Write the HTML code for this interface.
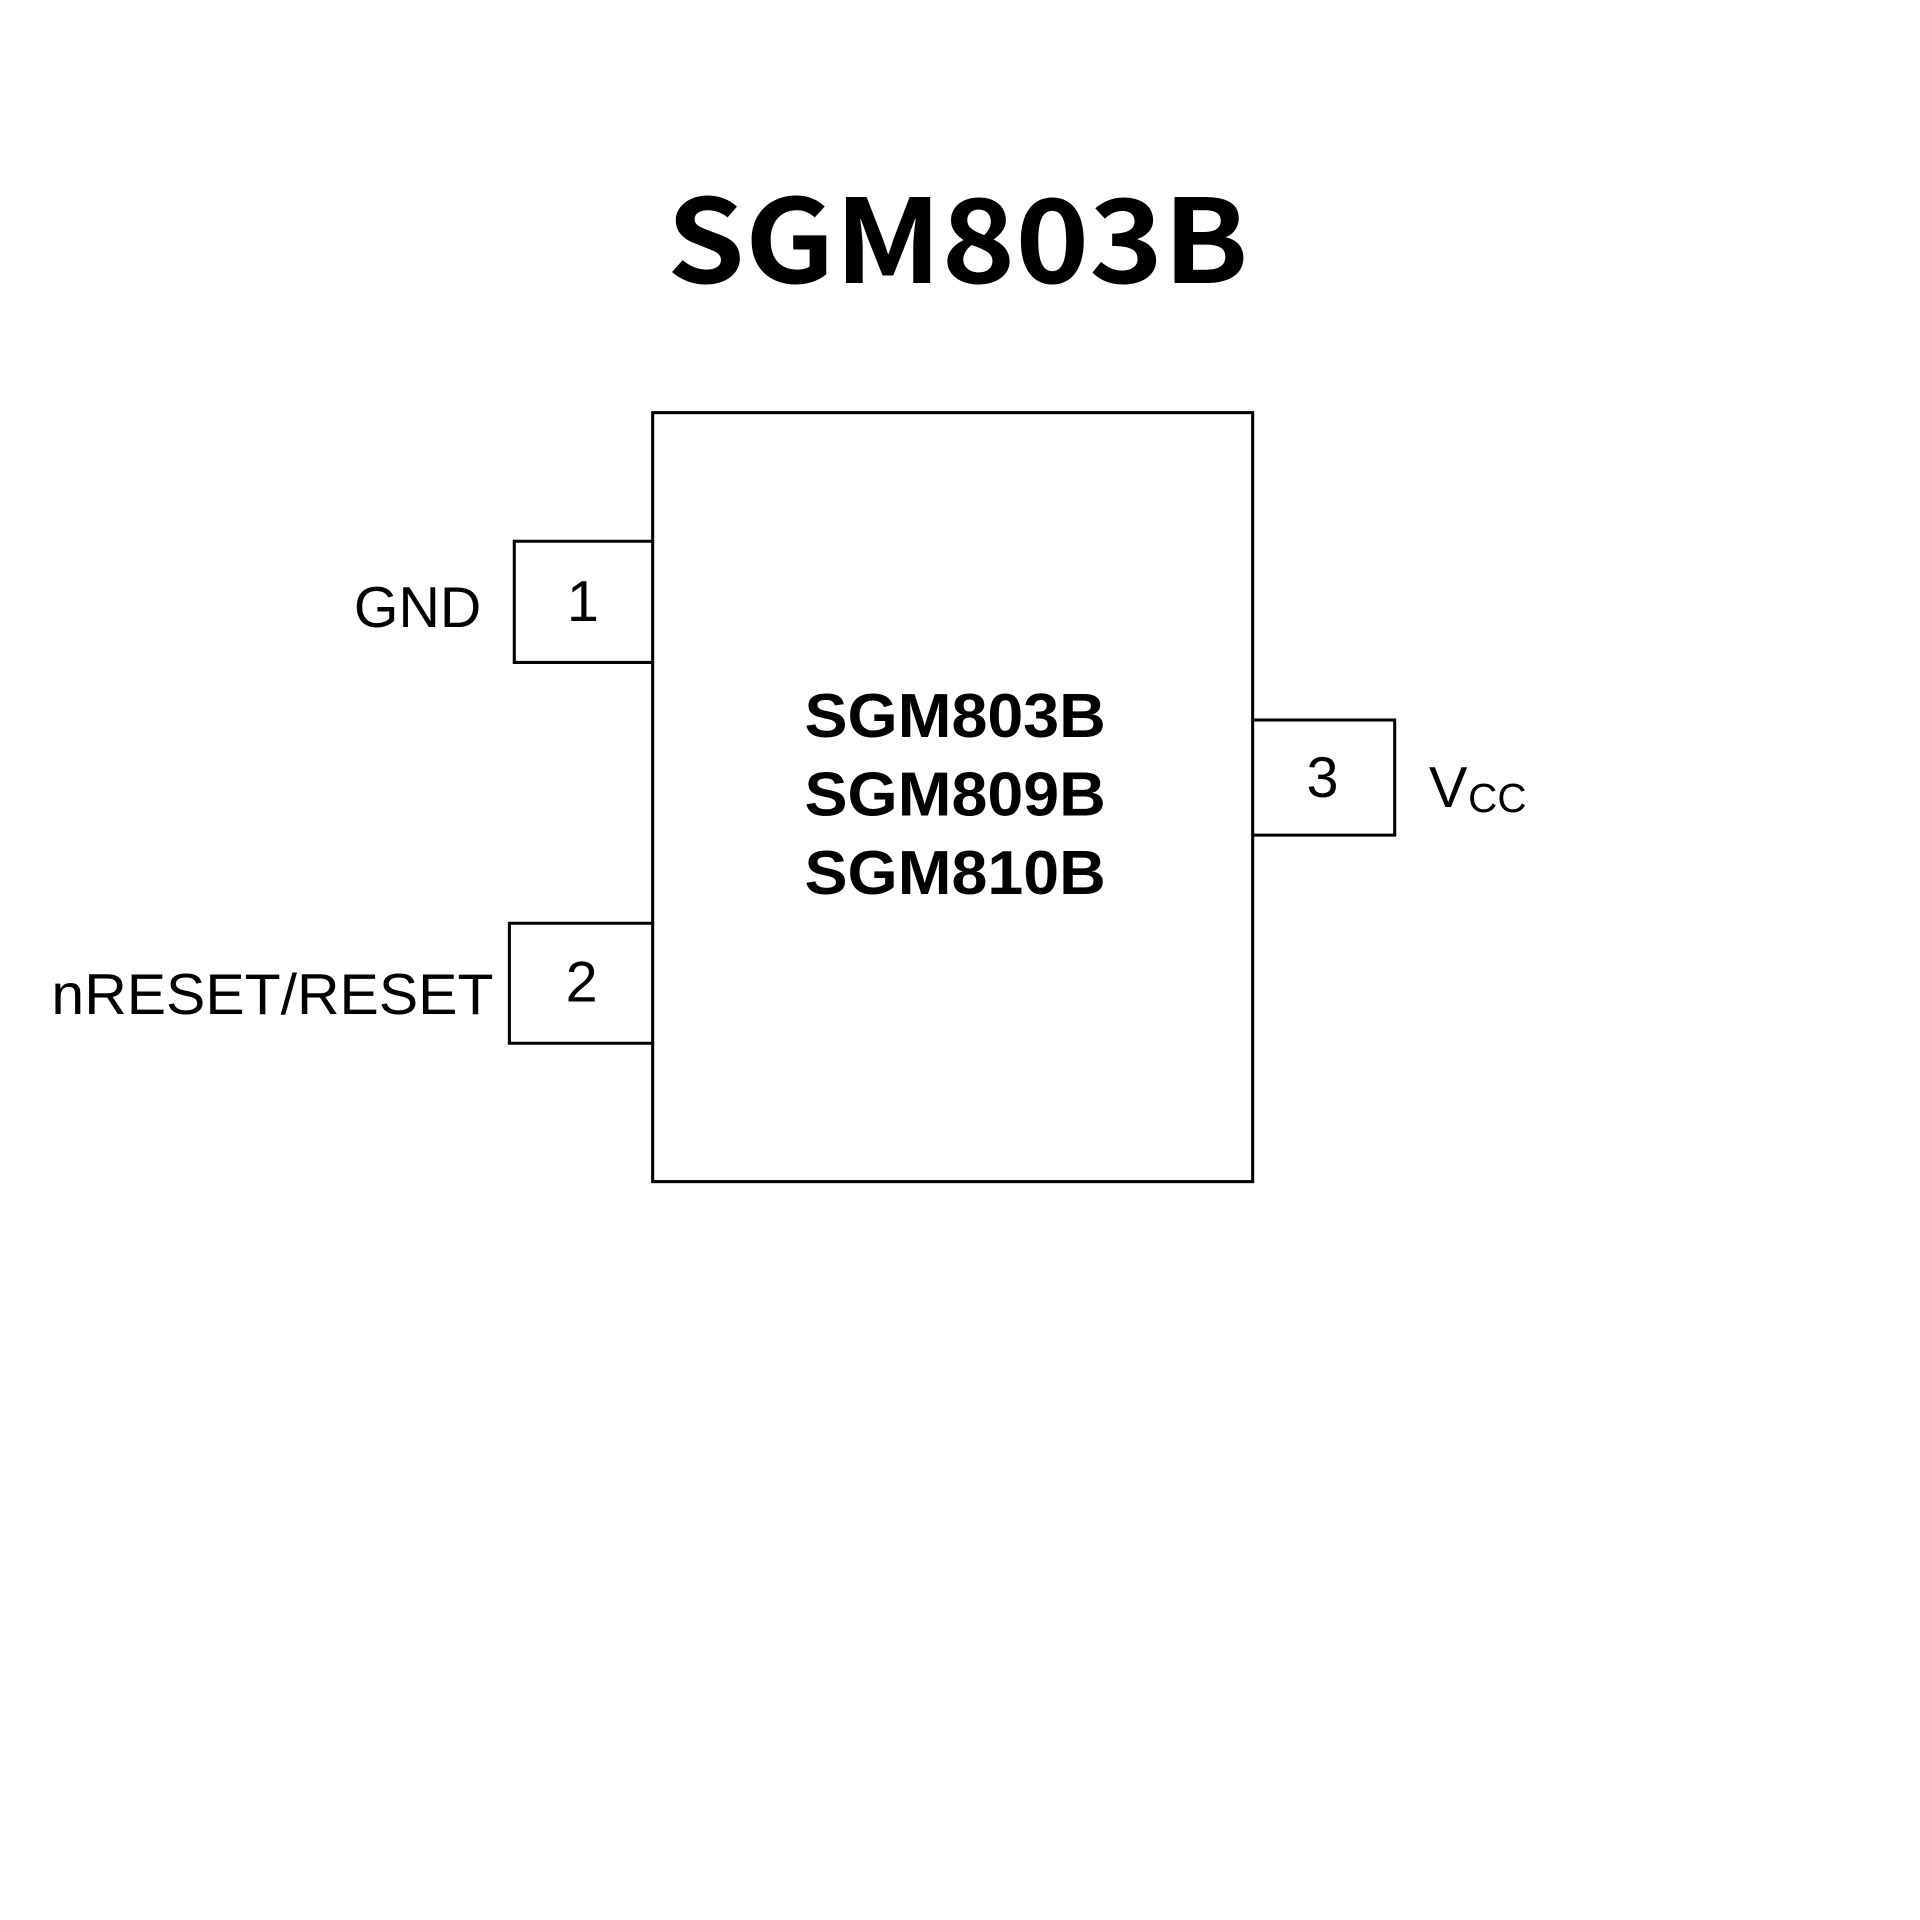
<!DOCTYPE html>
<html><head><style>html,body{margin:0;padding:0;background:#fff;}svg{display:block;}</style></head>
<body>
<svg width="1920" height="1920" viewBox="0 0 1568 1568" xmlns="http://www.w3.org/2000/svg">
<rect width="1568" height="1568" fill="#fff"/>
<g fill="none" stroke="#000" stroke-width="2.5">
<rect x="533" y="337" width="490" height="628"/>
<polyline points="533,442 420,442 420,541 533,541"/>
<polyline points="533,754 416,754 416,852 533,852"/>
<polyline points="1023,588 1139,588 1139,682 1023,682"/>
</g>
<g font-family="Liberation Sans, sans-serif" fill="#000">
<text x="782" y="231" font-size="95" font-weight="bold" font-family="Noto Sans CJK SC, Liberation Sans, sans-serif" text-anchor="middle" textLength="475" lengthAdjust="spacingAndGlyphs">SGM803B</text>
<text x="780" y="602" font-size="51" font-weight="bold" text-anchor="middle" textLength="246" lengthAdjust="spacingAndGlyphs">SGM803B</text>
<text x="780" y="666" font-size="51" font-weight="bold" text-anchor="middle" textLength="246" lengthAdjust="spacingAndGlyphs">SGM809B</text>
<text x="780" y="730" font-size="51" font-weight="bold" text-anchor="middle" textLength="246" lengthAdjust="spacingAndGlyphs">SGM810B</text>
<text x="393" y="512" font-size="47" text-anchor="end" textLength="104" lengthAdjust="spacingAndGlyphs">GND</text>
<text x="403" y="828" font-size="47" text-anchor="end" textLength="361" lengthAdjust="spacingAndGlyphs">nRESET/RESET</text>
<text x="476" y="507" font-size="47" text-anchor="middle">1</text>
<text x="475" y="818" font-size="47" text-anchor="middle">2</text>
<text x="1080" y="651" font-size="47" text-anchor="middle">3</text>
<text x="1167" y="659" font-size="47">V</text>
<text x="1199" y="663" font-size="33">CC</text>
</g>
</svg>
</body></html>
